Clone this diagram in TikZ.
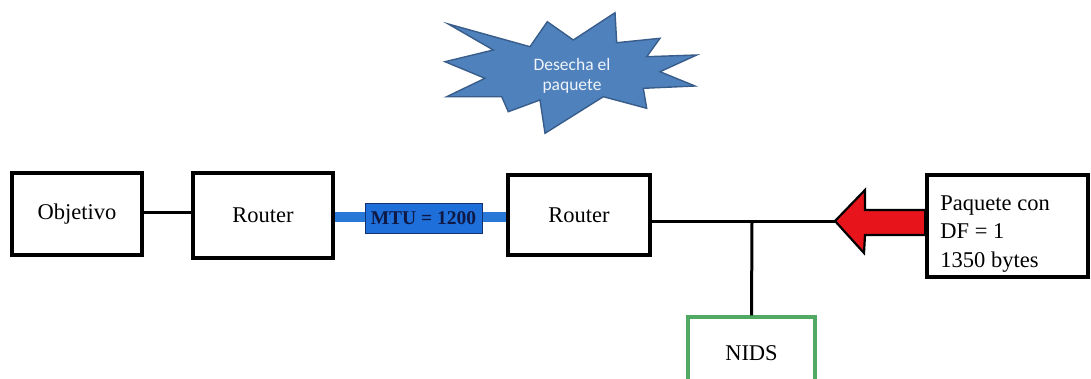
\documentclass[tikz,border=0pt]{standalone}
\usepackage{fontspec}
\setmainfont{Liberation Serif}
\newfontfamily\burstfont{Carlito}
\definecolor{burstfill}{RGB}{79,129,189}
\definecolor{burstline}{RGB}{56,93,138}
\definecolor{bandblue}{RGB}{40,120,215}
\definecolor{mtufill}{RGB}{30,111,217}
\definecolor{mtuline}{RGB}{22,50,110}
\definecolor{mtutext}{RGB}{15,25,70}
\definecolor{nidsgreen}{RGB}{80,170,100}
\definecolor{arrowred}{RGB}{232,20,27}
\definecolor{bursttext}{RGB}{240,244,250}
\tikzset{
  box/.style={draw=black, line width=3.6pt, fill=white, inner sep=0pt,
    font=\fontsize{22.5}{28}\selectfont},
  link/.style={draw=black, line width=3pt},
}
\begin{document}
\begin{tikzpicture}[x=1pt,y=-1pt]
\clip (0,0) rectangle (1091,378);
\fill[white] (0,0) rectangle (1091,378);

% starburst
\filldraw[fill=burstfill, draw=burstline, line width=1.4pt, line join=miter]
 (448.3,24) -- (530,46.7) -- (547.3,21.7) -- (573.3,40) -- (615,12.7)
 -- (616.7,42.7) -- (660,38.3) -- (646.7,56.7) -- (696.7,55) -- (660,71.7)
 -- (695,86) -- (643.3,88.3) -- (646.7,108.3) -- (603.3,96.7) -- (545,133.3)
 -- (540,100) -- (508.3,111.7) -- (501.7,96.7) -- (446.7,96.7) -- (485,78.3)
 -- (445,61.7) -- (493.3,50) -- cycle;
\node[align=center, text=bursttext, font=\burstfont\fontsize{17.5}{20}\selectfont] (burst) at (572,76) {Desecha el\\paquete};

% boxes
\node[box, minimum width=130pt, minimum height=82pt] (obj) at (77,214) {Objetivo};
\node[box, minimum width=140pt, minimum height=85pt] (r1) at (263,215.5) {Router};
\node[box, minimum width=142pt, minimum height=80pt] (r2) at (579,215) {Router};
\node[box, minimum width=161pt, minimum height=102pt] (pkt) at (1007.5,226) {};
\node[anchor=west, align=left, inner sep=0pt, font=\fontsize{22.5}{28.5}\selectfont] (pkttext) at ([xshift=15pt,yshift=-8pt]pkt.west) {Paquete con\\DF = 1\\1350 bytes};
\node[box, draw=nidsgreen, line width=3.2pt, minimum width=127pt, minimum height=72pt] (nids) at (751.5,353) {NIDS};

% connectors
\coordinate (j) at (752,221);
\coordinate (tip) at (835,221);
\draw[link] (obj.east |- 0,212) -- (r1.west |- 0,212);
\draw[draw=bandblue, line width=10pt] (r1.east |- 0,217) -- (r2.west |- 0,217);
\node[draw=mtuline, line width=1pt, fill=mtufill, text=mtutext, minimum width=117pt, minimum height=30pt, inner sep=0pt, font=\bfseries\fontsize{19.5}{20}\selectfont] (mtu) at (423.5,218) {MTU = 1200};
\draw[link] (r2.east |- j) -- (tip);
\draw[link] (j) -- (nids.north);

% red arrow
\filldraw[fill=arrowred, draw=black, line width=2.2pt, line join=miter]
 (tip) -- (865,190) -- (865,210) -- (pkt.west |- 0,210) -- (pkt.west |- 0,235)
 -- (865,235) -- (864,253) -- cycle;
\end{tikzpicture}
\end{document}
